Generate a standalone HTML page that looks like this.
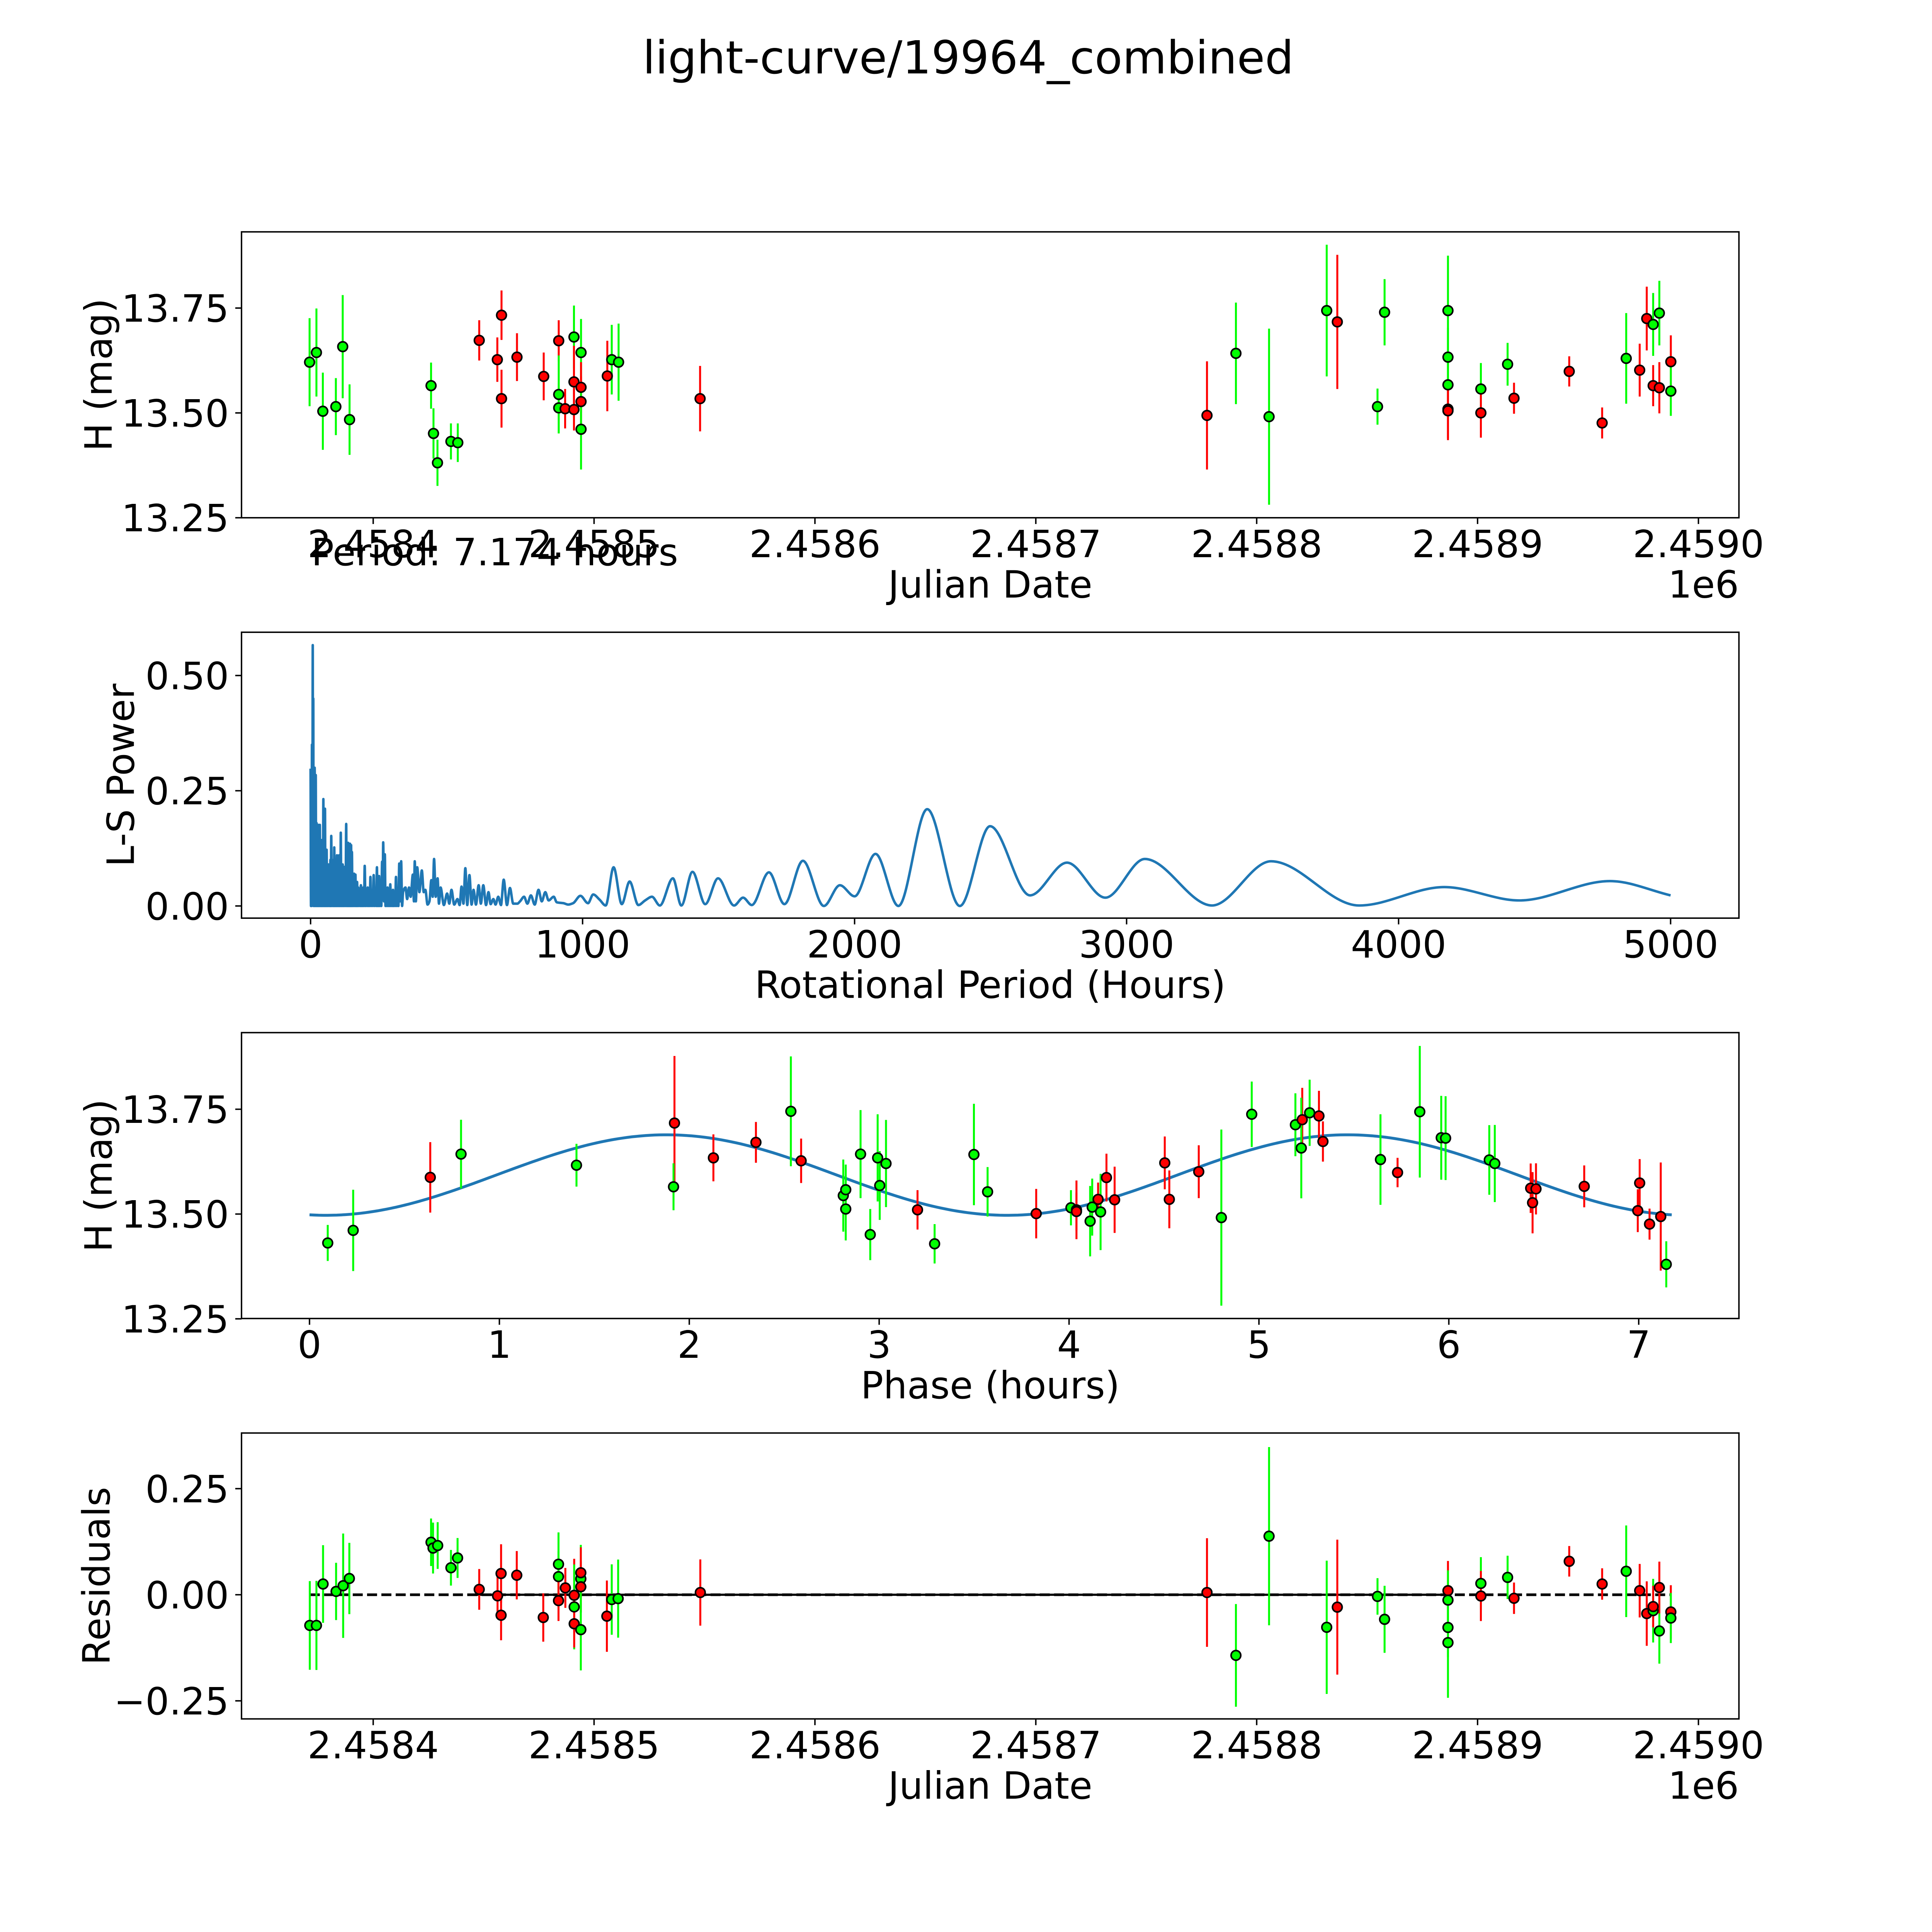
<!DOCTYPE html>
<html><head><meta charset="utf-8"><title>light-curve/19964_combined</title>
<style>
html,body{margin:0;padding:0;background:#fff;}
svg{display:block;}
text{font-family:"DejaVu Sans","Liberation Sans",sans-serif;fill:#000;}
</style></head>
<body>
<svg id="fig" xmlns="http://www.w3.org/2000/svg" width="5400" height="5400" viewBox="0 0 5400 5400">
<rect x="0" y="0" width="5400" height="5400" fill="#fff"/>
<g transform="scale(0.926)">
<text x="2706" y="205" font-size="127" text-anchor="middle">light-curve/19964_combined</text>
<g id="p1"></g>
<g id="p2"></g>
<g id="p3"></g>
<g id="p4"></g>
<text x="870" y="1580" font-size="105">Period: 7.174 hours</text>
</g>
</svg>
<script>
// ---- Panel 1: light curve (JD, mag, err, filter) ----
const p1Jd=[2458371.2,2458374.3,2458377.2,2458383.1,2458386.2,2458389.3,2458426.2,2458427.3,2458429.1,2458435.2,2458438.3,2458448.0,2458456.2,2458458.1,2458458.1,2458465.1,2458477.2,2458484.0,2458484.0,2458484.0,2458486.9,2458490.9,2458490.9,2458490.9,2458494.1,2458494.1,2458494.1,2458494.1,2458506.0,2458508.0,2458511.1,2458548.0,2458777.5,2458790.6,2458805.6,2458831.7,2458836.5,2458854.7,2458857.9,2458886.6,2458886.6,2458886.6,2458886.6,2458886.6,2458901.5,2458901.5,2458913.6,2458916.5,2458941.5,2458956.4,2458967.3,2458973.4,2458976.6,2458979.5,2458979.5,2458982.3,2458982.3,2458987.5,2458987.5];
const p1Mag=[13.621,13.644,13.504,13.515,13.658,13.484,13.565,13.451,13.381,13.432,13.429,13.673,13.627,13.733,13.534,13.633,13.587,13.672,13.544,13.512,13.510,13.681,13.574,13.508,13.644,13.561,13.527,13.461,13.588,13.627,13.621,13.534,13.494,13.642,13.491,13.744,13.717,13.515,13.740,13.744,13.633,13.567,13.509,13.505,13.557,13.500,13.616,13.535,13.599,13.476,13.630,13.602,13.725,13.711,13.565,13.738,13.560,13.622,13.552];
const p1Err=[0.105,0.105,0.092,0.068,0.123,0.084,0.055,0.06,0.055,0.043,0.046,0.048,0.053,0.059,0.069,0.057,0.057,0.049,0.093,0.06,0.047,0.075,0.086,0.05,0.08,0.06,0.06,0.096,0.084,0.083,0.092,0.078,0.129,0.121,0.21,0.157,0.16,0.043,0.079,0.131,0.07,0.06,0.07,0.07,0.062,0.059,0.051,0.037,0.036,0.037,0.108,0.063,0.076,0.075,0.049,0.077,0.061,0.063,0.059];
const p1Col=['g','g','g','g','g','g','g','g','g','g','g','r','r','r','r','r','r','r','g','g','r','g','r','r','g','r','r','g','r','g','g','r','r','g','g','g','r','g','g','g','g','g','r','r','g','r','g','r','r','r','g','r','r','g','r','g','r','r','g'];
const jdTicks=[2458400,2458500,2458600,2458700,2458800,2458900,2459000];
const jdTickLabels=['2.4584','2.4585','2.4586','2.4587','2.4588','2.4589','2.4590'];
const magTicks=[13.25,13.50,13.75];
const magTickLabels=['13.25','13.50','13.75'];

// ---- Panel 2: Lomb-Scargle periodogram ----
const lsPeriod=[0,1.5,3,4,5,6.5,8,9,10,11,12,13.5,15,17,19,20.5,22,23.5,25,26.5,28,29.5,31,32.5,34,36,38,39.5,41,42.5,44,45.5,47,48.5,50,51.5,53,54.5,56,57.5,59,60.5,62,64,66,68,70,71.5,73,74.5,76,78,80,82,84,85.5,87,89,91,92.5,94,95.5,97,99,101,103,105,106.5,108,109.5,111,113,115,116.5,118,120,122,124,126,128.5,131,132.5,134,136,138,140,142,143.5,145,147,149,150.5,152,154,156,158,160,162.5,165,166.5,168,169.5,171,173,175,177.5,180,182.5,185,187.5,190,192,194,196.5,199,202,205,207.5,210,212.5,215,217.5,220,223,226,229,232,235,238,241,244,246,248,250,252,254.5,257,260,263,265,267,270,273,275.5,278,280.5,283,285.5,288,290.5,293,295.5,298,300.5,303,305.5,308,311,314,317,320,323,326,329.5,333,336.5,340,349,355,362,368,376,380,383,387,392,400,409,416,422,430,437,444,449,454,460,467,472,478,490,502,510,518,528,540,548,555,562,569,576,584,592,599,608,618,626,635,645,654,662,672,680,690,700,710,722,733,745,760,770,785,797,810,824,838,850,863,875,894,905,930,947,965,992,1020,1039,1062,1085,1114,1144,1173,1205,1230,1255,1284,1332,1363,1404,1451,1498,1557,1590,1622,1685,1742,1810,1887,1946,2000,2077,2161,2267,2387,2498,2645,2781,2922,3067,3314,3531,3855,4168,4444,4777,5000];
const lsPower=[0.298,0,0.20,0,0.35,0.02,0.566,0.05,0.45,0,0.22,0,0.30,0,0.284,0,0.18,0,0.15,0,0.176,0,0.12,0,0.176,0,0.10,0,0.143,0,0.08,0,0.232,0,0.12,0,0.211,0,0.08,0,0.122,0,0.06,0,0.09,0,0.05,0,0.10,0,0.152,0,0.07,0,0.10,0,0.127,0,0.06,0,0.09,0,0.11,0,0.07,0,0.11,0,0.05,0,0.159,0,0.06,0,0.09,0,0.085,0,0.06,0,0.178,0,0.08,0,0.137,0,0.10,0,0.135,0,0.132,0,0.117,0,0.05,0,0.07,0,0.068,0,0.03,0,0.052,0,0.04,0,0.03,0,0.045,0,0.03,0,0.04,0,0.087,0,0.03,0,0.04,0,0.025,0,0.063,0,0.02,0,0.067,0,0.03,0,0.084,0,0.04,0,0.065,0,0.03,0,0.096,0.02,0.138,0.01,0.112,0,0.03,0,0.04,0,0.02,0,0.047,0,0.015,0,0.035,0,0.02,0,0.063,0,0.03,0,0.092,0.01,0.097,0,0.03,0.04,0.015,0.04,0.02,0.068,0.01,0.097,0.01,0.084,0.03,0.077,0.03,0.035,0.003,0.01,0.056,0.02,0.102,0.02,0.06,0.005,0.04,0.002,0.027,0.005,0.035,0.003,0.015,0.002,0.042,0.005,0.082,0.002,0.067,0.003,0.035,0.003,0.045,0.005,0.045,0.002,0.03,0.004,0.015,0.003,0.02,0.002,0.057,0.002,0.039,0.005,0.005,0.01,0.02,0.005,0.023,0.003,0.035,0.01,0.03,0.012,0.02,0.008,0.006,0.003,0.006,0.022,0.006,0.025,0.014,0.001,0.084,0.004,0.053,0.002,0.012,0.02,0.001,0.06,0.001,0.074,0.004,0.06,0.001,0.018,0.002,0.073,0.004,0.098,0,0.045,0.021,0.113,0,0.21,0,0.173,0.023,0.094,0.018,0.102,0.001,0.097,0.001,0.041,0.012,0.054,0.023];
const lsXTicks=[0,1000,2000,3000,4000,5000];
const lsXTickLabels=['0','1000','2000','3000','4000','5000'];
const lsYTicks=[0,0.25,0.5];
const lsYTickLabels=['0.00','0.25','0.50'];

// ---- Panel 3: phase-folded ----
const phPhase=[0.096,0.23,0.636,0.798,1.406,1.922,1.917,2.127,2.351,2.535,2.589,2.811,2.824,2.824,2.902,2.953,2.992,3.003,3.036,3.202,3.292,3.499,3.571,3.827,4.010,4.039,4.039,4.111,4.122,4.153,4.166,4.197,4.24,4.504,4.528,4.683,4.802,4.962,5.192,5.228,5.223,5.267,5.316,5.337,5.64,5.73,5.847,5.96,5.983,6.213,6.242,6.431,6.459,6.441,6.713,6.995,7.005,7.057,7.116,7.145];
const phMag=[13.431,13.461,13.5875,13.643,13.6165,13.717,13.565,13.634,13.671,13.745,13.627,13.544,13.558,13.512,13.643,13.451,13.634,13.568,13.6205,13.510,13.429,13.642,13.553,13.501,13.515,13.51,13.506,13.483,13.5165,13.535,13.505,13.587,13.534,13.622,13.535,13.601,13.4915,13.738,13.713,13.725,13.6575,13.7415,13.734,13.673,13.63,13.599,13.744,13.682,13.681,13.629,13.6205,13.5616,13.56,13.527,13.566,13.508,13.574,13.476,13.494,13.38];
const phErr=[0.043,0.097,0.084,0.082,0.051,0.16,0.056,0.056,0.0487,0.131,0.053,0.086,0.06,0.075,0.105,0.061,0.104,0.082,0.104,0.047,0.047,0.121,0.059,0.059,0.042,0.07,0.045,0.084,0.068,0.04,0.091,0.057,0.079,0.063,0.069,0.063,0.21,0.078,0.075,0.076,0.12,0.079,0.06,0.048,0.108,0.035,0.157,0.1,0.1,0.083,0.092,0.059,0.061,0.073,0.05,0.051,0.057,0.037,0.129,0.055];
const phCol=['g','g','r','g','g','r','g','r','r','g','r','g','g','g','g','g','g','g','g','r','g','g','g','r','g','r','r','g','g','r','g','r','r','r','r','r','g','g','g','r','g','g','r','r','g','r','g','g','g','g','g','r','r','r','r','r','r','r','r','g'];
const periodHours=[7.174];
const fitParams=[13.593,0.096,1.88]; // mean mag, amplitude, phase of maximum (hours)
const phTicks=[0,1,2,3,4,5,6,7];
const phTickLabels=['0','1','2','3','4','5','6','7'];

// ---- Panel 4: residuals ----
const resJd=[2458371.3,2458374.3,2458377.3,2458383.2,2458386.4,2458389.2,2458426.2,2458427.1,2458429.2,2458435.2,2458438.2,2458448.0,2458456.3,2458457.9,2458457.9,2458465.0,2458477.0,2458483.9,2458483.9,2458483.9,2458487.0,2458491.0,2458491.0,2458491.0,2458494.0,2458494.0,2458494.0,2458494.0,2458505.8,2458508.0,2458510.9,2458548.1,2458777.5,2458790.6,2458805.6,2458831.7,2458836.5,2458854.7,2458857.9,2458886.6,2458886.6,2458886.6,2458886.6,2458901.5,2458901.5,2458913.6,2458916.5,2458941.5,2458956.4,2458967.3,2458973.4,2458976.6,2458979.5,2458979.5,2458982.3,2458982.3,2458987.5,2458987.5];
const resVal=[-0.0723,-0.0723,0.0253,0.0078,0.0213,0.0383,0.1237,0.110,0.116,0.0636,0.0867,0.0126,-0.0026,0.05,-0.0483,0.046,-0.0536,0.0719,0.0427,-0.0139,0.0161,-0.0013,-0.0287,-0.0684,0.0375,0.0518,0.0187,-0.0823,-0.0505,-0.0113,-0.0091,0.0052,0.0052,-0.1429,0.138,-0.0767,-0.0292,-0.0039,-0.0579,0.0096,-0.0126,-0.0771,-0.1128,0.0266,-0.003,0.0409,-0.0083,0.0788,0.0253,0.0553,0.0096,-0.0444,-0.0375,-0.0279,-0.0854,0.017,-0.0405,-0.0549];
const resErr=[0.1045,0.105,0.0915,0.0675,0.123,0.084,0.056,0.06,0.055,0.042,0.047,0.048,0.053,0.069,0.059,0.057,0.057,0.075,0.06,0.048,0.047,0.086,0.1,0.056,0.08,0.06,0.06,0.096,0.084,0.083,0.092,0.078,0.128,0.121,0.21,0.157,0.159,0.043,0.079,0.07,0.07,0.07,0.13,0.062,0.059,0.051,0.037,0.036,0.037,0.108,0.063,0.076,0.075,0.049,0.077,0.061,0.063,0.059];
const resCol=['g','g','g','g','g','g','g','g','g','g','g','r','r','r','r','r','r','g','g','r','r','r','g','r','g','r','r','g','r','g','g','r','r','g','g','g','r','g','g','r','g','g','g','g','r','g','r','r','r','g','r','r','g','r','g','r','r','g'];
const solidZeroSpan=[2458447,2458886];
const resTicks=[-0.25,0,0.25];
const resTickLabels=['\u22120.25','0.00','0.25'];

// ---- layout ----
const NS='http://www.w3.org/2000/svg';
const L=675,R=4860;
const ROWS=[[648,1447],[1767,2566],[2886,3685],[4005,4804]];
const COLORS={g:'#00ff00',r:'#ff0000'};
const xJd=jd=>1043+(jd-2458400)*6.173;
const yMag1=m=>1447-(m-13.25)*1172;
const xLs=p=>868+p*0.7602;
const yLs=v=>2532-v*1288;
const xPh=p=>865+p*530.7;
const yMag3=m=>3393-(m-13.5)*1171.6;
const yRes=r=>4457-r*1186;

function mk(tag,attrs,parent){const e=document.createElementNS(NS,tag);for(const k in attrs)e.setAttribute(k,attrs[k]);parent.appendChild(e);return e;}

function axes(g,row,xt,xl,xf,yt,yl,yf,xlabel,ylabel,ylabelX,offText){
  const [T,B]=row;
  const xa=mk('g',{},g);
  
  
  xt.forEach((v,i)=>{const x=xf(v);
    const tk=mk('line',{x1:x,x2:x,y1:B,y2:B+17.5,stroke:'#000','stroke-width':4},xa);
    
    
    const t=mk('text',{x:x,y:B+110,'font-size':105,'text-anchor':'middle'},xa);
    
    
    t.textContent=xl[i];});
  const ya=mk('g',{},g);
  
  
  yt.forEach((v,i)=>{const y=yf(v);
    const tk=mk('line',{x1:L-17.5,x2:L,y1:y,y2:y,stroke:'#000','stroke-width':4},ya);
    
    
    const t=mk('text',{x:L-35,y:y+38,'font-size':105,'text-anchor':'end'},ya);
    
    
    t.textContent=yl[i];});
  const xlab=mk('text',{x:(L+R)/2,y:B+223,'font-size':105,'text-anchor':'middle'},g);
  
  
  xlab.textContent=xlabel;
  const cy=(T+B)/2;
  const ylab=mk('text',{x:ylabelX,y:cy,'font-size':105,'text-anchor':'middle','dominant-baseline':'central',transform:`rotate(-90 ${ylabelX} ${cy})`},g);
  
  
  ylab.textContent=ylabel;
  if(offText){const o=mk('text',{x:R,y:B+223,'font-size':105,'text-anchor':'end'},g);
    
    
    o.textContent=offText;}
}
function frame(g,row){const f=mk('rect',{x:L,y:row[0],width:R-L,height:row[1]-row[0],fill:'none',stroke:'#000','stroke-width':4},g);
  
  }
function points(g,xs,ys,es,cs,xf,yf,sc){
  const bars=mk('g',{},g);
  
  
  const dots=mk('g',{},g);
  
  
  for(let i=0;i<xs.length;i++){
    const x=xf(xs[i]),y=yf(ys[i]),d=es[i]*sc,c=COLORS[cs[i]];
    const b=mk('line',{x1:x,x2:x,y1:y-d,y2:y+d,stroke:c,'stroke-width':5.5},bars);
    
    
    const p=mk('circle',{cx:x,cy:y,r:13.5,fill:c,stroke:'#000','stroke-width':4.5},dots);
    
    
  }
}
function monoPath(xs,ys){
  const n=xs.length,dx=[],m=[],t=new Array(n);
  for(let i=0;i<n-1;i++){dx[i]=xs[i+1]-xs[i];m[i]=(ys[i+1]-ys[i])/dx[i];}
  t[0]=m[0];t[n-1]=m[n-2];
  for(let i=1;i<n-1;i++){t[i]=(m[i-1]*m[i]<=0)?0:(3*(dx[i-1]+dx[i]))/((2*dx[i]+dx[i-1])/m[i-1]+(dx[i]+2*dx[i-1])/m[i]);}
  let d=`M${xs[0]},${ys[0]}`;
  for(let i=0;i<n-1;i++){const h=dx[i]/3;d+=` C${xs[i]+h},${ys[i]+t[i]*h} ${xs[i+1]-h},${ys[i+1]-t[i+1]*h} ${xs[i+1]},${ys[i+1]}`;}
  return d;
}

// Panel 1
const g1=document.getElementById('p1');
points(g1,p1Jd,p1Mag,p1Err,p1Col,xJd,yMag1,1172);
frame(g1,ROWS[0]);
axes(g1,ROWS[0],jdTicks,jdTickLabels,xJd,magTicks,magTickLabels,yMag1,'Julian Date','H (mag)',276,'1e6');

// Panel 2
const g2=document.getElementById('p2');
const n2=Math.min(lsPeriod.length,lsPower.length);
const lsx=[],lsy=[];
for(let i=0;i<n2;i++){lsx.push(xLs(lsPeriod[i]));lsy.push(yLs(lsPower[i]));}
const lsLine=mk('path',{d:monoPath(lsx,lsy),fill:'none',stroke:'#1f77b4','stroke-width':7,'stroke-linejoin':'round'},g2);


frame(g2,ROWS[1]);
axes(g2,ROWS[1],lsXTicks,lsXTickLabels,xLs,lsYTicks,lsYTickLabels,yLs,'Rotational Period (Hours)','L-S Power',338,null);

// Panel 3
const g3=document.getElementById('p3');
const mx=[],my=[];
for(let i=0;i<=300;i++){const ph=periodHours[0]*i/300;
  mx.push(xPh(ph));
  my.push(yMag3(fitParams[0]+fitParams[1]*Math.cos(2*Math.PI*(ph-fitParams[2])/(periodHours[0]/2))));}
const fit=mk('path',{d:'M'+mx.map((x,i)=>x.toFixed(1)+','+my[i].toFixed(1)).join(' L'),fill:'none',stroke:'#1f77b4','stroke-width':8},g3);


points(g3,phPhase,phMag,phErr,phCol,xPh,yMag3,1171.6);
frame(g3,ROWS[2]);
axes(g3,ROWS[2],phTicks,phTickLabels,xPh,magTicks,magTickLabels,yMag3,'Phase (hours)','H (mag)',276,null);

// Panel 4
const g4=document.getElementById('p4');
const z=yRes(0);
const dash=mk('line',{x1:xJd(Math.min(...resJd)),x2:xJd(Math.max(...resJd)),y1:z,y2:z,stroke:'#000','stroke-width':7.5,'stroke-dasharray':'28 12'},g4);


const solid=mk('line',{x1:xJd(solidZeroSpan[0]),x2:xJd(solidZeroSpan[1]),y1:z,y2:z,stroke:'#000','stroke-width':6},g4);


points(g4,resJd,resVal,resErr,resCol,xJd,yRes,1186);
frame(g4,ROWS[3]);
axes(g4,ROWS[3],jdTicks,jdTickLabels,xJd,resTicks,resTickLabels,yRes,'Julian Date','Residuals',270,'1e6');
</script>
</body></html>
